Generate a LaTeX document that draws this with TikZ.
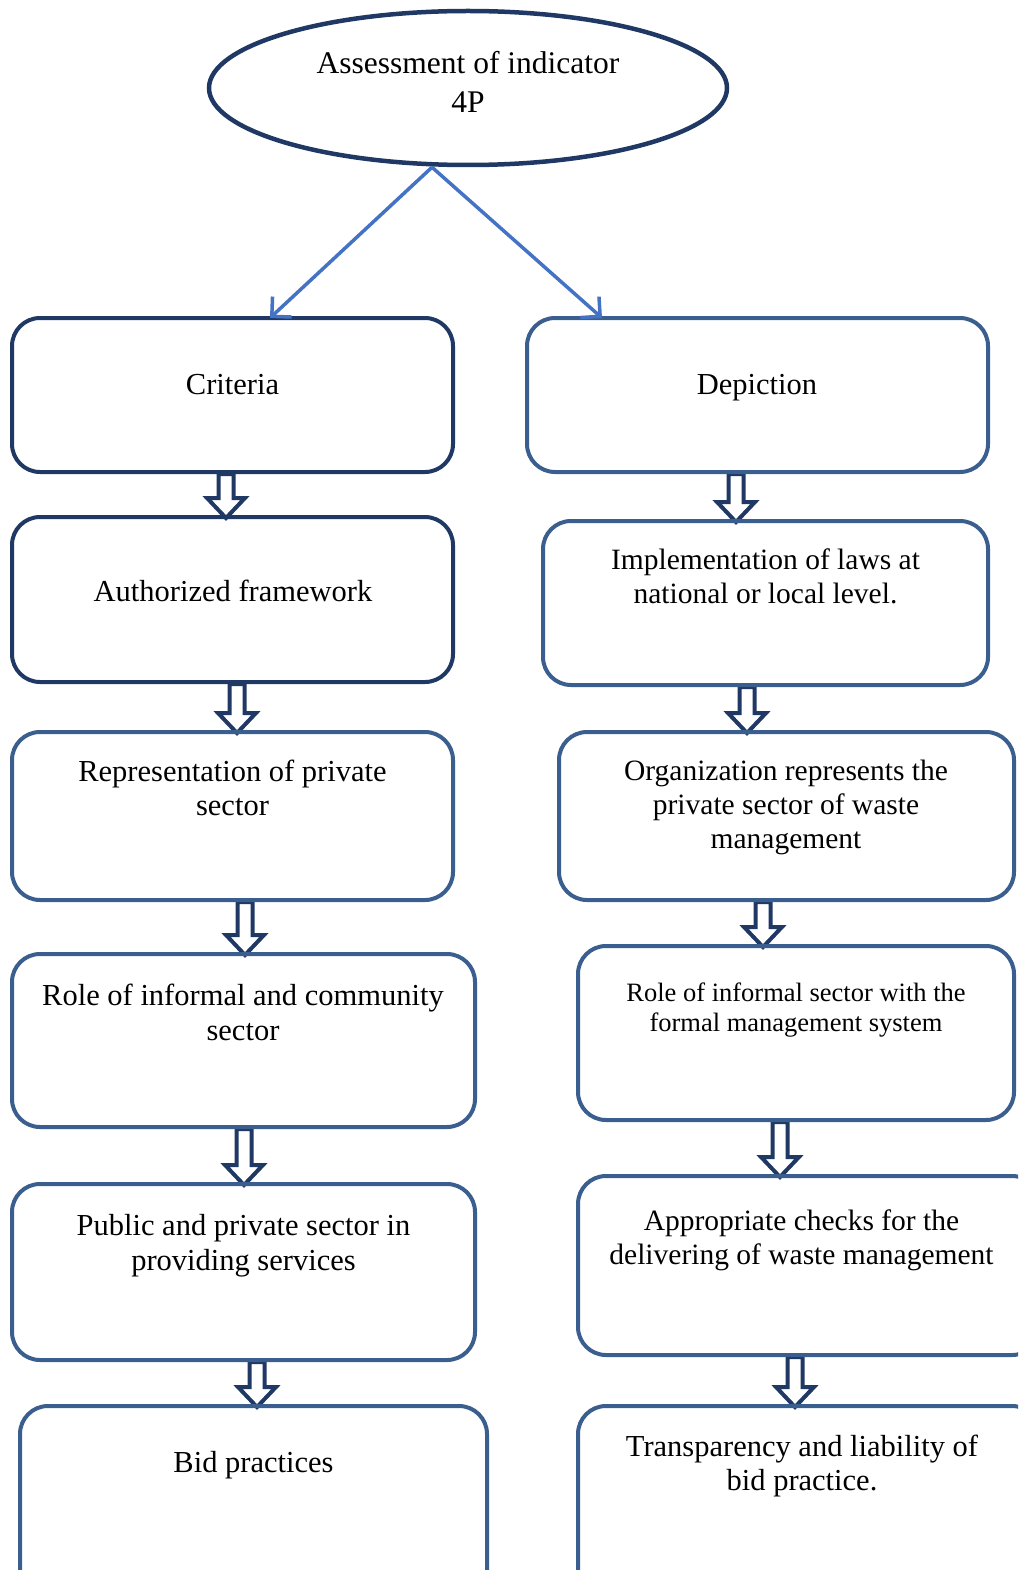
\documentclass[tikz,border=0pt]{standalone}
\usepackage{fontspec}
\setmainfont{Liberation Serif}
\usetikzlibrary{calc,arrows.meta,shapes.geometric,fit,backgrounds}
\definecolor{navy}{HTML}{1F3864}
\definecolor{steel}{HTML}{3A5F8F}
\definecolor{linkblue}{HTML}{4472C4}

\begin{document}
\begin{tikzpicture}[x=1pt,y=-1pt,
  box/.style={draw=steel, line width=4pt, rounded corners=28pt, inner sep=0pt},
  darkbox/.style={box, draw=navy},
  txt/.style={align=center, inner sep=0pt, font=\fontsize{30.5}{34.5}\selectfont},
  smalltxt/.style={txt, font=\fontsize{26.5}{30}\selectfont},
  link/.style={draw=linkblue, line width=3.5pt, -{Straight Barb[length=14pt,width=28pt,line width=3.5pt]}},
  hollow/.style={draw=navy, line width=4pt, line join=miter, fill=white,
    to path={let \p1=(\tikztostart), \p2=(\tikztotarget) in
      ({\x1-7.5pt},\y1) -- ({\x1-7.5pt},{\y2+17pt}) -- ({\x1-19pt},{\y2+17pt})
      -- (\x1,{\y2-3pt}) -- ({\x1+19pt},{\y2+17pt}) -- ({\x1+7.5pt},{\y2+17pt})
      -- ({\x1+7.5pt},\y1) -- cycle}}]

\useasboundingbox (0,0) rectangle (1018,1570);
\clip (0,0) rectangle (1018,1570);

% top ellipse
\node[draw=navy, line width=4.5pt, ellipse, minimum width=518pt, minimum height=154pt, inner sep=0pt] (top) at (468,88) {};
\node[txt, font=\fontsize{31.5}{39}\selectfont] (topt) at (468,82) {Assessment of indicator\\4P};

% left column
\node[darkbox, fit={(12,318) (453,472)}] (c1) {};
\node[txt] (c1t) at (232.5,385) {Criteria};
\node[darkbox, fit={(12,517) (453,682)}] (c2) {};
\node[txt] (c2t) at (233,591) {Authorized framework};
\node[box, fit={(12,732) (453,900)}] (c3) {};
\node[txt] (c3t) at (232.5,788) {Representation of private\\sector};
\node[box, fit={(12,954) (475,1127)}] (c4) {};
\node[txt] (c4t) at (243,1012.5) {Role of informal and community\\sector};
\node[box, fit={(12,1184) (475,1360)}] (c5) {};
\node[txt] (c5t) at (243.5,1245.5) {Public and private sector in\\providing services};
\node[box, fit={(20,1406) (487,1610)}] (c6) {};
\node[txt] (c6t) at (253.5,1465) {Bid practices};

% right column
\node[box, fit={(527,318) (988,472)}] (d1) {};
\node[txt] (d1t) at (757,388) {Depiction};
\node[box, fit={(543,521) (988,685)}] (d2) {};
\node[txt, font=\fontsize{29.5}{34}\selectfont] (d2t) at (765.5,576.5) {Implementation of laws at\\national or local level.};
\node[box, fit={(559,732) (1014,900)}] (d3) {};
\node[txt, font=\fontsize{29.5}{34}\selectfont] (d3t) at (786,807) {Organization represents the\\private sector of waste\\management};
\node[box, fit={(578,946) (1014,1120)}] (d4) {};
\node[smalltxt] (d4t) at (796,1010) {Role of informal sector with the\\formal management system};
\node[box, fit={(578,1176) (1040,1355)}] (d5) {};
\node[txt, font=\fontsize{29.5}{34}\selectfont] (d5t) at (801.5,1240.5) {Appropriate checks for the\\delivering of waste management};
\node[box, fit={(578,1406) (1040,1610)}] (d6) {};
\node[txt] (d6t) at (802,1466) {Transparency and liability of\\bid practice.};

% connectors
\draw[link] ([xshift=-36pt]top.south) -- ([xshift=37.5pt,yshift=-2pt]c1.north);
\draw[link] ([xshift=-36pt]top.south) -- ([xshift=-155.5pt,yshift=-2pt]d1.north);

\begin{scope}[on background layer]
  \draw[hollow] ([xshift=-6.5pt]c1.south) to (c2.north);
  \draw[hollow] ([xshift=4.5pt]c2.south) to (c3.north);
  \draw[hollow] ([xshift=12.5pt]c3.south) to (c4.north);
  \draw[hollow] ([xshift=0.5pt]c4.south) to (c5.north);
  \draw[hollow] ([xshift=13.5pt]c5.south) to (c6.north);
  \draw[hollow] ([xshift=-21.5pt]d1.south) to (d2.north);
  \draw[hollow] ([xshift=-18.5pt]d2.south) to (d3.north);
  \draw[hollow] ([xshift=-23.5pt]d3.south) to (d4.north);
  \draw[hollow] ([xshift=-16pt]d4.south) to (d5.north);
  \draw[hollow] ([xshift=-14pt]d5.south) to (d6.north);
\end{scope}
\end{tikzpicture}
\end{document}
